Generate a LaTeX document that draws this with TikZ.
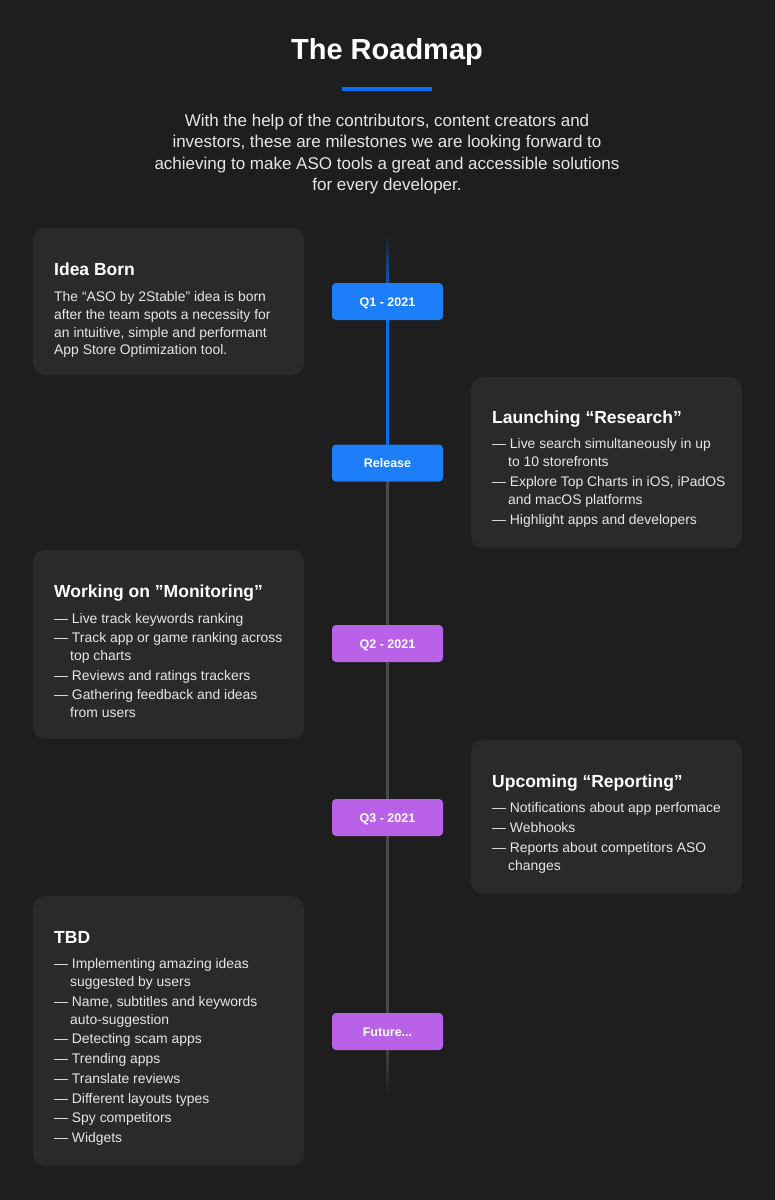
\documentclass[tikz,border=0pt]{standalone}
\usepackage{fontspec}
\setmainfont{Liberation Sans}
\definecolor{bg}{HTML}{1E1E1E}
\definecolor{card}{HTML}{2A2A2A}
\definecolor{txt}{HTML}{E6E6E6}
\definecolor{blueA}{HTML}{2E8EFF}
\definecolor{blueB}{HTML}{0A6EF0}
\definecolor{blueM}{HTML}{1C7EF8}
\definecolor{purA}{HTML}{C977F0}
\definecolor{purB}{HTML}{A84EE0}
\definecolor{purM}{HTML}{B962E8}
\tikzset{
  cardbox/.style={fill=card,rounded corners=12pt},
  badge/.style={rounded corners=4pt,minimum width=111pt,minimum height=37pt,text=white,font=\fontsize{12.5}{14}\selectfont\bfseries,inner sep=0pt,text height=9pt,text depth=0pt},
  bluebadge/.style={badge,fill=blueM},
  purbadge/.style={badge,fill=purM},
  ctitle/.style={anchor=base west,text=white,font=\fontsize{17.5}{20}\selectfont\bfseries,inner sep=0pt},
  cline/.style={anchor=base west,text=txt,font=\fontsize{13.9}{15}\selectfont,inner sep=0pt},
}
\begin{document}
\begin{tikzpicture}[x=1pt,y=-1pt]
\fill[bg] (0,0) rectangle (775,1200);
\useasboundingbox (0,0) rectangle (775,1200);
\node[text=white,font=\fontsize{29}{34}\selectfont\bfseries] (title) at (387,52) {The Roadmap};
\fill[blueB] (342,87) rectangle (432,91);
\node[text=txt,align=center,font=\fontsize{17}{21.6}\selectfont] (intro) at (387,154) {With the help of the contributors, content creators and\\investors, these are milestones we are looking forward to\\achieving to make ASO tools a great and accessible solutions\\for every developer.};
% cards
\fill[cardbox] (33,228) rectangle (304,375);
\fill[cardbox] (471,377) rectangle (742,548);
\fill[cardbox] (33,550) rectangle (304,739);
\fill[cardbox] (471,740) rectangle (742,894);
\fill[cardbox] (33,896) rectangle (304,1166);
% timeline
\shade[top color=bg,bottom color=blueB] (386,235) rectangle (389,300);
\fill[blueB] (386,300) rectangle (389,463);
\fill[gray!45!bg] (386,463) rectangle (389,1040);
\shade[top color=gray!45!bg,bottom color=bg] (386,1040) rectangle (389,1095);
% badges
\node[bluebadge] (q1) at (387.5,301.5) {Q1 - 2021};
\node[bluebadge] (rel) at (387.5,463) {Release};
\node[purbadge] (q2) at (387.5,643.5) {Q2 - 2021};
\node[purbadge] (q3) at (387.5,817.5) {Q3 - 2021};
\node[purbadge] (fut) at (387.5,1031.5) {Future...};
% card 1
\node[ctitle] (t1) at (54,275) {Idea Born};
\node[cline] (l11) at (54,301) {The “ASO by 2Stable” idea is born};
\node[cline] (l12) at (54,319) {after the team spots a necessity for};
\node[cline] (l13) at (54,337) {an intuitive, simple and performant};
\node[cline] (l14) at (54,354) {App Store Optimization tool.};
% card 2
\node[ctitle] (t2) at (492,423) {Launching “Research”};
\node[cline] (l21) at (492,448) {— Live search simultaneously in up};
\node[cline] (l22) at (508,466) {to 10 storefronts};
\node[cline] (l23) at (492,486) {— Explore Top Charts in iOS, iPadOS};
\node[cline] (l24) at (508,504) {and macOS platforms};
\node[cline] (l25) at (492,524) {— Highlight apps and developers};
% card 3
\node[ctitle] (t3) at (54,597) {Working on ”Monitoring”};
\node[cline] (l31) at (54,623) {— Live track keywords ranking};
\node[cline] (l32) at (54,642) {— Track app or game ranking across};
\node[cline] (l33) at (70,660) {top charts};
\node[cline] (l34) at (54,680) {— Reviews and ratings trackers};
\node[cline] (l35) at (54,699) {— Gathering feedback and ideas};
\node[cline] (l36) at (70,717) {from users};
% card 4
\node[ctitle] (t4) at (492,787) {Upcoming “Reporting”};
\node[cline] (l41) at (492,812) {— Notifications about app perfomace};
\node[cline] (l42) at (492,832) {— Webhooks};
\node[cline] (l43) at (492,852) {— Reports about competitors ASO};
\node[cline] (l44) at (508,870) {changes};
% card 5
\node[ctitle] (t5) at (54,943) {TBD};
\node[cline] (l51) at (54,968) {— Implementing amazing ideas};
\node[cline] (l52) at (70,986) {suggested by users};
\node[cline] (l53) at (54,1006) {— Name, subtitles and keywords};
\node[cline] (l54) at (70,1024) {auto-suggestion};
\node[cline] (l55) at (54,1043) {— Detecting scam apps};
\node[cline] (l56) at (54,1063) {— Trending apps};
\node[cline] (l57) at (54,1083) {— Translate reviews};
\node[cline] (l58) at (54,1103) {— Different layouts types};
\node[cline] (l59) at (54,1122) {— Spy competitors};
\node[cline] (l510) at (54,1142) {— Widgets};
\end{tikzpicture}
\end{document}
